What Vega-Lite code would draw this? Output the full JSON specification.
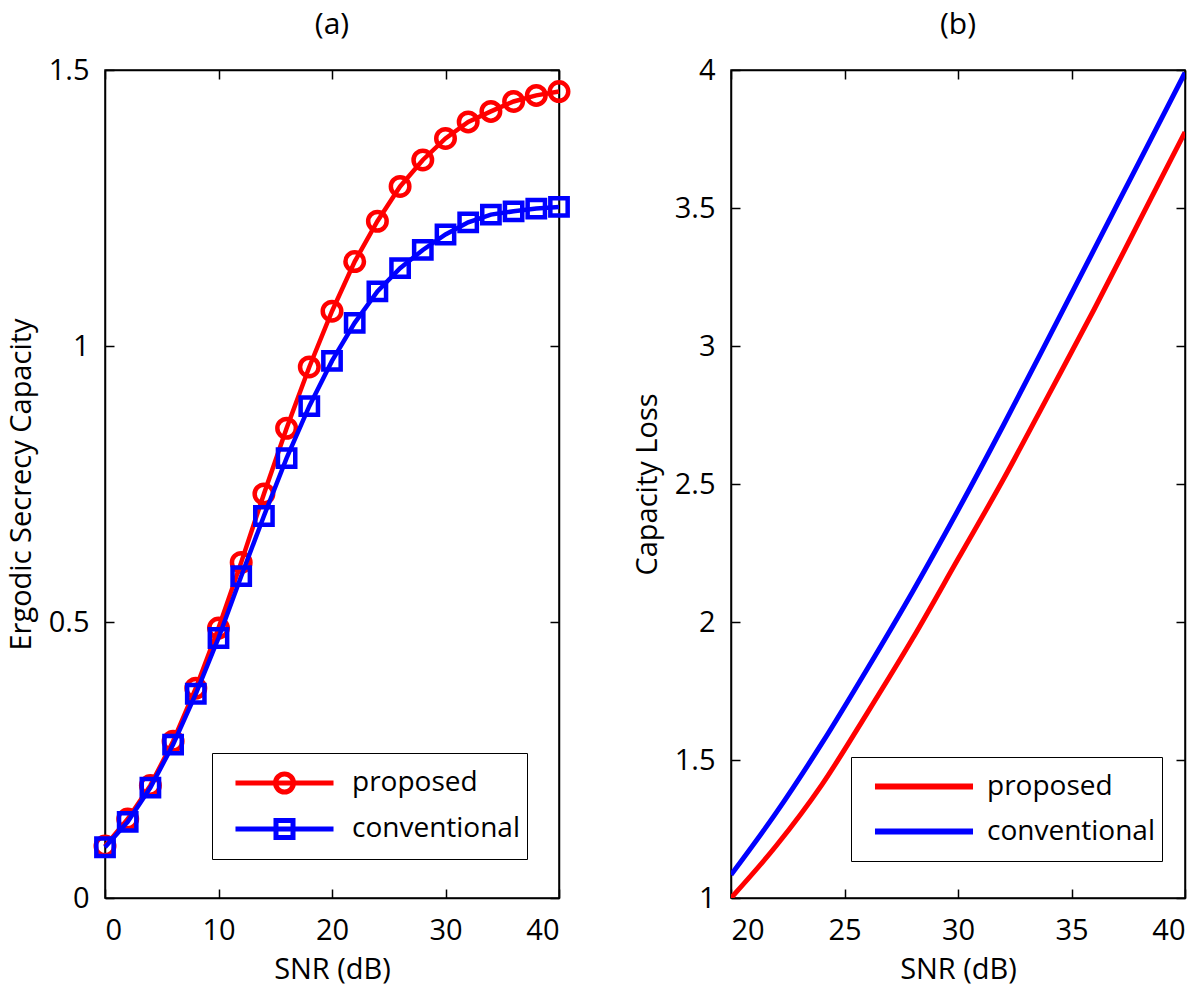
{
  "$schema": "https://vega.github.io/schema/vega-lite/v6.json",
  "background": "white",
  "padding": {"left": 6, "top": 9, "right": 0, "bottom": 2},
  "spacing": 54,
  "datasets": {
    "a": [
      {"snr": 0, "series": "proposed", "v": 0.094}, {"snr": 2, "series": "proposed", "v": 0.143}, {"snr": 4, "series": "proposed", "v": 0.204},
      {"snr": 6, "series": "proposed", "v": 0.284}, {"snr": 8, "series": "proposed", "v": 0.38}, {"snr": 10, "series": "proposed", "v": 0.489},
      {"snr": 12, "series": "proposed", "v": 0.608}, {"snr": 14, "series": "proposed", "v": 0.732}, {"snr": 16, "series": "proposed", "v": 0.851},
      {"snr": 18, "series": "proposed", "v": 0.962}, {"snr": 20, "series": "proposed", "v": 1.063}, {"snr": 22, "series": "proposed", "v": 1.153},
      {"snr": 24, "series": "proposed", "v": 1.226}, {"snr": 26, "series": "proposed", "v": 1.289}, {"snr": 28, "series": "proposed", "v": 1.337},
      {"snr": 30, "series": "proposed", "v": 1.376}, {"snr": 32, "series": "proposed", "v": 1.406}, {"snr": 34, "series": "proposed", "v": 1.425},
      {"snr": 36, "series": "proposed", "v": 1.443}, {"snr": 38, "series": "proposed", "v": 1.454}, {"snr": 40, "series": "proposed", "v": 1.461},
      {"snr": 0, "series": "conventional", "v": 0.092}, {"snr": 2, "series": "conventional", "v": 0.138}, {"snr": 4, "series": "conventional", "v": 0.2},
      {"snr": 6, "series": "conventional", "v": 0.278}, {"snr": 8, "series": "conventional", "v": 0.37}, {"snr": 10, "series": "conventional", "v": 0.471},
      {"snr": 12, "series": "conventional", "v": 0.583}, {"snr": 14, "series": "conventional", "v": 0.692}, {"snr": 16, "series": "conventional", "v": 0.797},
      {"snr": 18, "series": "conventional", "v": 0.891}, {"snr": 20, "series": "conventional", "v": 0.973}, {"snr": 22, "series": "conventional", "v": 1.042},
      {"snr": 24, "series": "conventional", "v": 1.099}, {"snr": 26, "series": "conventional", "v": 1.141}, {"snr": 28, "series": "conventional", "v": 1.174},
      {"snr": 30, "series": "conventional", "v": 1.202}, {"snr": 32, "series": "conventional", "v": 1.224}, {"snr": 34, "series": "conventional", "v": 1.238},
      {"snr": 36, "series": "conventional", "v": 1.244}, {"snr": 38, "series": "conventional", "v": 1.249}, {"snr": 40, "series": "conventional", "v": 1.252}
    ],
    "b": [
      {"snr": 20, "series": "proposed", "v": 1.0}, {"snr": 22, "series": "proposed", "v": 1.19}, {"snr": 24, "series": "proposed", "v": 1.41},
      {"snr": 26, "series": "proposed", "v": 1.67}, {"snr": 28, "series": "proposed", "v": 1.94}, {"snr": 30, "series": "proposed", "v": 2.228},
      {"snr": 32, "series": "proposed", "v": 2.517}, {"snr": 34, "series": "proposed", "v": 2.824}, {"snr": 36, "series": "proposed", "v": 3.133},
      {"snr": 38, "series": "proposed", "v": 3.454}, {"snr": 40, "series": "proposed", "v": 3.775},
      {"snr": 20, "series": "conventional", "v": 1.084}, {"snr": 22, "series": "conventional", "v": 1.31}, {"snr": 24, "series": "conventional", "v": 1.56},
      {"snr": 26, "series": "conventional", "v": 1.83}, {"snr": 28, "series": "conventional", "v": 2.11}, {"snr": 30, "series": "conventional", "v": 2.405},
      {"snr": 32, "series": "conventional", "v": 2.713}, {"snr": 34, "series": "conventional", "v": 3.03}, {"snr": 36, "series": "conventional", "v": 3.35},
      {"snr": 38, "series": "conventional", "v": 3.67}, {"snr": 40, "series": "conventional", "v": 3.99}
    ]
  },
  "hconcat": [
    {
      "width": 454,
      "height": 828,
      "title": {"text": "(a)", "frame": "group", "offset": 16},
      "data": {"name": "a"},
      "layer": [
        {
          "transform": [{"filter": "datum.series === 'proposed'"}],
          "mark": {"type": "line", "strokeWidth": 4.5},
          "encoding": {
            "x": {"field": "snr", "type": "quantitative", "scale": {"domain": [0, 40], "nice": false, "zero": false},
                  "axis": {"orient": "bottom", "values": [0, 10, 20, 30, 40], "title": "SNR (dB)", "labelPadding": 27, "titlePadding": 10}},
            "y": {"field": "v", "type": "quantitative", "scale": {"domain": [0, 1.5], "nice": false, "zero": false},
                  "axis": {"orient": "left", "values": [0, 0.5, 1, 1.5], "format": "~g", "title": "Ergodic Secrecy Capacity", "titlePadding": 12}},
            "color": {"field": "series", "type": "nominal",
                      "scale": {"domain": ["proposed", "conventional"], "range": ["#ff0000", "#0000ff"]},
                      "legend": {
                        "orient": "none", "legendX": 107, "legendY": 683, "title": null, "direction": "vertical",
                        "strokeColor": "black", "fillColor": "white", "padding": 7,
                        "labelFont": "Open Sans", "labelFontSize": 28, "labelColor": "black", "labelOffset": 2, "labelLimit": 400,
                        "symbolSize": 15876, "symbolStrokeWidth": 5, "clipHeight": 46, "rowPadding": 0,
                        "symbolType": "M-0.778,0H0.778",
                        "encode": {"symbols": {"update": {
                          "shape": {"signal": "datum.value === 'proposed' ? 'M-0.778,0H0.778M0.143,0A0.143,0.143 0 1,1 -0.143,0A0.143,0.143 0 1,1 0.143,0' : 'M-0.778,0H0.778M-0.135,-0.135H0.135V0.135H-0.135Z'"},
                          "fill": {"value": "transparent"},
                          "strokeWidth": {"value": 5}
                        }}}
                      }}
          }
        },
        {
          "transform": [{"filter": "datum.series === 'proposed'"}],
          "mark": {"type": "point", "filled": false, "strokeWidth": 4.5, "size": 342, "shape": "circle", "opacity": 1},
          "encoding": {
            "x": {"field": "snr", "type": "quantitative", "axis": null},
            "y": {"field": "v", "type": "quantitative", "axis": null},
            "color": {"field": "series", "type": "nominal", "legend": null}
          }
        },
        {
          "transform": [{"filter": "datum.series === 'conventional'"}],
          "mark": {"type": "line", "strokeWidth": 4.5},
          "encoding": {
            "x": {"field": "snr", "type": "quantitative", "axis": null},
            "y": {"field": "v", "type": "quantitative", "axis": null},
            "color": {"field": "series", "type": "nominal", "legend": null}
          }
        },
        {
          "transform": [{"filter": "datum.series === 'conventional'"}],
          "mark": {"type": "point", "filled": false, "strokeWidth": 4.5, "size": 300, "shape": "square", "opacity": 1},
          "encoding": {
            "x": {"field": "snr", "type": "quantitative",
                  "axis": {"orient": "top", "values": [0, 10, 20, 30, 40], "labels": false, "title": null}},
            "y": {"field": "v", "type": "quantitative",
                  "axis": {"orient": "right", "values": [0, 0.5, 1, 1.5], "labels": false, "title": null}},
            "color": {"field": "series", "type": "nominal", "legend": null}
          }
        }
      ],
      "resolve": {"axis": {"x": "independent", "y": "independent"}}
    },
    {
      "width": 454,
      "height": 828,
      "title": {"text": "(b)", "frame": "group", "offset": 16},
      "data": {"name": "b"},
      "layer": [
        {
          "transform": [{"filter": "datum.series === 'proposed'"}],
          "mark": {"type": "line", "strokeWidth": 5, "interpolate": "monotone", "clip": true},
          "encoding": {
            "x": {"field": "snr", "type": "quantitative", "scale": {"domain": [20, 40], "nice": false, "zero": false},
                  "axis": {"orient": "bottom", "values": [20, 25, 30, 35, 40], "title": "SNR (dB)", "labelPadding": 27, "titlePadding": 10}},
            "y": {"field": "v", "type": "quantitative", "scale": {"domain": [1, 4], "nice": false, "zero": false},
                  "axis": {"orient": "left", "values": [1, 1.5, 2, 2.5, 3, 3.5, 4], "format": "~g", "title": "Capacity Loss", "titlePadding": 12}},
            "color": {"field": "series", "type": "nominal",
                      "scale": {"domain": ["proposed", "conventional"], "range": ["#ff0000", "#0000ff"]},
                      "legend": {
                        "orient": "none", "legendX": 120, "legendY": 687, "title": null, "direction": "vertical",
                        "strokeColor": "black", "fillColor": "white", "padding": 7,
                        "labelFont": "Open Sans", "labelFontSize": 28, "labelColor": "black", "labelOffset": -3, "labelLimit": 400,
                        "symbolSize": 15876, "symbolStrokeWidth": 6, "clipHeight": 45, "rowPadding": 0,
                        "symbolType": "M-0.778,0H0.778"
                      }}
          }
        },
        {
          "transform": [{"filter": "datum.series === 'conventional'"}],
          "mark": {"type": "line", "strokeWidth": 5, "interpolate": "monotone", "clip": true},
          "encoding": {
            "x": {"field": "snr", "type": "quantitative",
                  "axis": {"orient": "top", "values": [20, 25, 30, 35, 40], "labels": false, "title": null}},
            "y": {"field": "v", "type": "quantitative",
                  "axis": {"orient": "right", "values": [1, 1.5, 2, 2.5, 3, 3.5, 4], "labels": false, "title": null}},
            "color": {"field": "series", "type": "nominal", "legend": null}
          }
        }
      ],
      "resolve": {"axis": {"x": "independent", "y": "independent"}}
    }
  ],
  "resolve": {"scale": {"color": "independent"}, "legend": {"color": "independent"}},
  "config": {
    "font": "Open Sans",
    "view": {"stroke": "black", "strokeWidth": 1.5},
    "title": {"font": "Open Sans", "fontSize": 30, "fontWeight": "normal", "color": "black"},
    "axis": {
      "domainColor": "black", "domainWidth": 1.5, "tickColor": "black", "tickWidth": 1.5, "tickSize": -9,
      "labelColor": "black", "labelFont": "Open Sans", "labelFontSize": 29, "labelPadding": 25,
      "titleFont": "Open Sans", "titleFontSize": 29, "titleFontWeight": "normal", "titleColor": "black",
      "grid": false
    }
  }
}
